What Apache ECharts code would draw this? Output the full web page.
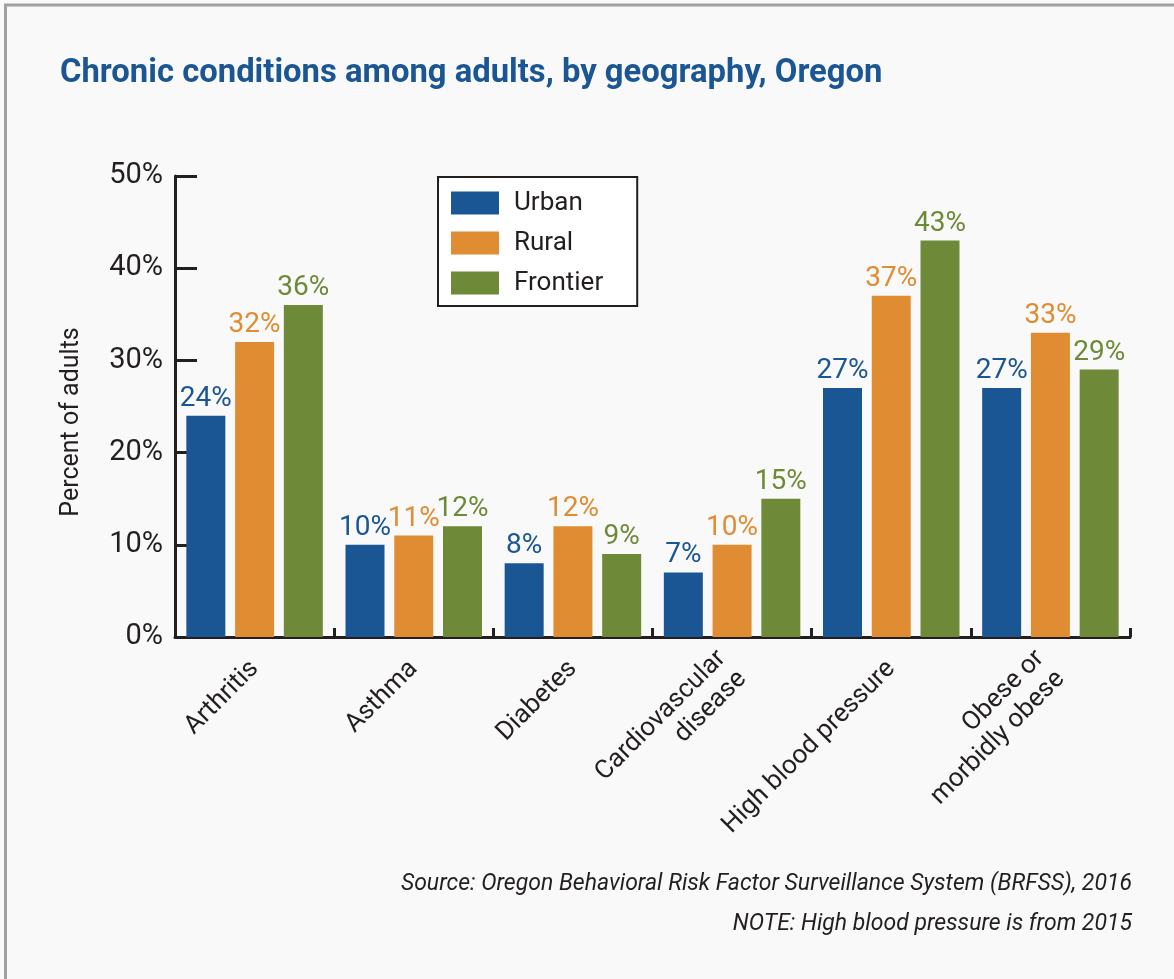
<!DOCTYPE html>
<html>
<head>
<meta charset="utf-8">
<script src="https://cdn.jsdelivr.net/npm/echarts@6/dist/echarts.min.js"></script>
<style>
html,body{margin:0;padding:0;background:#f9f9f9;}
#c{width:1174px;height:979px;}
</style>
</head>
<body>
<div id="c"></div>
<script>
var categories = ['Arthritis', 'Asthma', 'Diabetes', 'Cardiovascular\ndisease', 'High blood pressure', 'Obese or\nmorbidly obese'];
var urban = [24, 10, 8, 7, 27, 27];
var rural = [32, 11, 12, 10, 37, 33];
var frontier = [36, 12, 9, 15, 43, 29];
var yTicks = [0, 10, 20, 30, 40, 50];

var FONT = 'Roboto, "Liberation Sans", sans-serif';
var colors = {urban: '#1b5694', rural: '#e08c32', frontier: '#6e8a38'};

function mk(name, data, color) {
  return {
    name: name, type: 'bar', data: data, barWidth: 39, barGap: '25%',
    itemStyle: {color: color},
    label: {show: true, position: 'top', distance: 3, formatter: '{c}%',
      color: color, fontFamily: FONT, fontSize: 28}
  };
}

var chart = echarts.init(document.getElementById('c'));
chart.setOption({
  backgroundColor: '#f9f9f9',
  animation: false,
  title: {
    text: 'Chronic conditions among adults, by geography, Oregon',
    left: 55, top: 52,
    textStyle: {color: '#1b5694', fontFamily: FONT, fontWeight: 'bold', fontSize: 32.8}
  },
  graphic: [
    {type: 'line', shape: {x1: 5.5, y1: 5, x2: 5.5, y2: 979}, style: {stroke: '#a0a0a0', lineWidth: 3}},
    {type: 'line', shape: {x1: 4, y1: 5, x2: 1174, y2: 5}, style: {stroke: '#a0a0a0', lineWidth: 3}},
    {type: 'text', x: 72, y: 422, rotation: Math.PI / 2,
      style: {text: 'Percent of adults', fill: '#231f20', font: '25px ' + FONT, textAlign: 'center', textVerticalAlign: 'middle'}},
    {type: 'text', x: 1132, y: 884,
      style: {text: 'Source: Oregon Behavioral Risk Factor Surveillance System (BRFSS), 2016', fill: '#231f20', font: 'italic 23px ' + FONT, textAlign: 'right', textVerticalAlign: 'middle'}},
    {type: 'text', x: 1132, y: 924,
      style: {text: 'NOTE: High blood pressure is from 2015', fill: '#231f20', font: 'italic 23px ' + FONT, textAlign: 'right', textVerticalAlign: 'middle'}}
  ],
  legend: {
    orient: 'vertical', left: 438, top: 177,
    data: ['Urban', 'Rural', 'Frontier'],
    backgroundColor: '#ffffff', borderColor: '#231f20', borderWidth: 2,
    padding: [13, 34, 10, 13],
    itemWidth: 48, itemHeight: 23, itemGap: 14,
    icon: 'rect',
    textStyle: {fontFamily: FONT, fontSize: 26, lineHeight: 23, color: '#231f20', padding: [0, 0, 0, 10]}
  },
  grid: {left: 175, right: 44, top: 176, bottom: 342, containLabel: false},
  xAxis: {
    type: 'category', data: categories,
    axisLine: {lineStyle: {color: '#231f20', width: 3}},
    axisTick: {show: true, inside: true, length: 9, lineStyle: {color: '#231f20', width: 3}},
    axisLabel: {rotate: 45, margin: 28, fontFamily: FONT, fontSize: 26, lineHeight: 29, color: '#231f20', interval: 0}
  },
  yAxis: {
    type: 'value', min: 0, max: 50, interval: 10,
    axisLine: {show: true, lineStyle: {color: '#231f20', width: 3}},
    axisTick: {show: true, inside: true, length: 22, lineStyle: {color: '#231f20', width: 3}},
    splitLine: {show: false},
    axisLabel: {margin: 12, fontFamily: FONT, fontSize: 29, color: '#231f20',
      formatter: function (v) { return yTicks.indexOf(v) >= 0 ? v + '%' : ''; }}
  },
  series: [
    mk('Urban', urban, colors.urban),
    mk('Rural', rural, colors.rural),
    mk('Frontier', frontier, colors.frontier)
  ]
});
</script>
</body>
</html>
